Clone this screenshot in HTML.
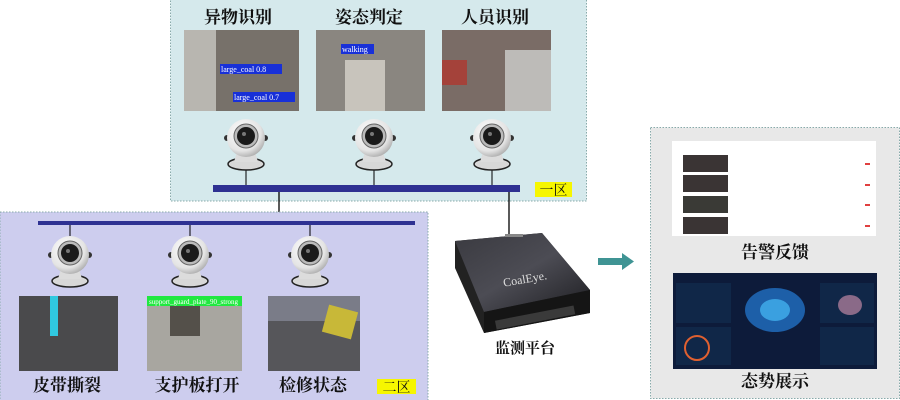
<!DOCTYPE html>
<html><head><meta charset="utf-8"><style>
html,body{margin:0;padding:0;background:#fff;}
svg{display:block;}
text{font-family:"Liberation Serif","Noto Serif CJK SC","Noto Sans CJK SC",serif;}
</style></head><body>
<svg width="900" height="400" viewBox="0 0 900 400" xmlns="http://www.w3.org/2000/svg">
<defs>
<radialGradient id="sph" cx="0.4" cy="0.35" r="0.7">
<stop offset="0" stop-color="#ffffff"/><stop offset="0.7" stop-color="#e4e4e4"/><stop offset="1" stop-color="#a8a8a8"/>
</radialGradient>
<linearGradient id="top" x1="0" y1="0" x2="1" y2="1">
<stop offset="0" stop-color="#3a3a40"/><stop offset="0.5" stop-color="#4c4c54"/><stop offset="1" stop-color="#1e1e22"/>
</linearGradient>
<g id="cam">
<ellipse cx="0" cy="24" rx="18" ry="6" fill="#d8d8d8" stroke="#222" stroke-width="1.5"/>
<path d="M-9 12 L9 12 L12 22 L-12 22 Z" fill="#dcdcdc"/>
<circle cx="-19" cy="-2" r="3" fill="#333"/><circle cx="19" cy="-2" r="3" fill="#333"/>
<circle cx="0" cy="-2" r="19" fill="url(#sph)"/>
<circle cx="0" cy="-4" r="12" fill="#bbb" stroke="#666" stroke-width="1"/>
<circle cx="0" cy="-4" r="9" fill="#1a1a1a"/>
<circle cx="-2" cy="-6" r="2" fill="#777"/>
</g>
</defs>

<!-- Zone 1 -->
<rect x="170.5" y="-1" width="416" height="202" fill="#d5e9ec" stroke="#8aa" stroke-width="1" stroke-dasharray="1.5,1.5"/>
<g font-size="17" text-anchor="middle" fill="#111" font-weight="bold">
<text x="238" y="23">异物识别</text>
<text x="369" y="23">姿态判定</text>
<text x="495" y="23">人员识别</text>
</g>
<rect x="184" y="30" width="115" height="81" fill="#77716a"/>
<rect x="184" y="30" width="32" height="81" fill="#b8b6b0"/>
<rect x="220" y="64" width="62" height="10" fill="#1830d8"/><text x="221" y="72" font-size="8" fill="#fff" font-family="Liberation Sans">large_coal 0.8</text>
<rect x="233" y="92" width="62" height="10" fill="#1830d8"/><text x="234" y="100" font-size="8" fill="#fff" font-family="Liberation Sans">large_coal 0.7</text>
<rect x="316" y="30" width="109" height="81" fill="#8a8680"/>
<rect x="345" y="60" width="40" height="51" fill="#c8c4bc"/>
<rect x="341" y="44" width="33" height="10" fill="#1830d8"/><text x="342" y="52" font-size="8" fill="#fff" font-family="Liberation Sans">walking</text>
<rect x="442" y="30" width="109" height="81" fill="#7a6c66"/>
<rect x="442" y="60" width="25" height="25" fill="#a4423a"/>
<rect x="505" y="50" width="46" height="61" fill="#bdbbb8"/>
<line x1="246" y1="168" x2="246" y2="186" stroke="#000"/>
<line x1="374" y1="168" x2="374" y2="186" stroke="#000"/>
<line x1="492" y1="168" x2="492" y2="186" stroke="#000"/>
<use href="#cam" x="246" y="140"/><use href="#cam" x="374" y="140"/><use href="#cam" x="492" y="140"/>
<rect x="213" y="185" width="307" height="7" fill="#2e3192"/>
<rect x="535" y="182" width="37" height="15" fill="#f6f600"/>
<text x="553.5" y="195" font-size="14" text-anchor="middle" fill="#111">一区</text>

<!-- connectors -->
<line x1="279" y1="192" x2="279" y2="222" stroke="#000" stroke-width="1.3"/>
<line x1="509" y1="192" x2="509" y2="236" stroke="#000" stroke-width="1.3"/>

<!-- Zone 2 -->
<rect x="0" y="212" width="428" height="189" fill="#cdcdee" stroke="#8aa" stroke-width="1" stroke-dasharray="1.5,1.5"/>
<rect x="38" y="221" width="377" height="4" fill="#2e3192"/>
<line x1="70" y1="225" x2="70" y2="240" stroke="#000"/>
<line x1="190" y1="225" x2="190" y2="240" stroke="#000"/>
<line x1="310" y1="225" x2="310" y2="240" stroke="#000"/>
<use href="#cam" x="70" y="257"/><use href="#cam" x="190" y="257"/><use href="#cam" x="310" y="257"/>
<rect x="19" y="296" width="99" height="75" fill="#4a4a4c"/>
<rect x="50" y="296" width="8" height="40" fill="#30c8e0"/>
<rect x="147" y="296" width="95" height="75" fill="#a8a6a0"/>
<rect x="147" y="296" width="95" height="10" fill="#20e840"/>
<text x="149" y="304" font-size="7" fill="#fff" font-family="Liberation Mono">support_guard_plate_90_strong</text>
<rect x="170" y="306" width="30" height="30" fill="#54504a"/>
<rect x="268" y="296" width="92" height="75" fill="#56565a"/>
<rect x="268" y="296" width="92" height="25" fill="#7a7c88"/>
<rect x="325" y="308" width="30" height="28" fill="#c8b838" transform="rotate(15 340 322)"/>
<g font-size="17" text-anchor="middle" fill="#111" font-weight="bold">
<text x="67" y="391">皮带撕裂</text>
<text x="197" y="391">支护板打开</text>
<text x="313" y="391">检修状态</text>
</g>
<rect x="377" y="379" width="39" height="15" fill="#f6f600"/>
<text x="396.5" y="392" font-size="14" text-anchor="middle" fill="#111">二区</text>

<!-- Device -->
<polygon points="455,241 542,233 590,290 590,313 484,333 455,268" fill="#222"/>
<polygon points="455,241 542,233 590,290 484,312" fill="url(#top)"/>
<polygon points="484,312 590,290 590,313 484,333" fill="#151515"/>
<rect x="495" y="313" width="80" height="9" fill="#3a3a3a" transform="rotate(-11 535 317)"/>
<rect x="505" y="234" width="18" height="3" fill="#888"/>
<text x="525" y="283" font-size="12" fill="#ddd" font-family="Liberation Sans" transform="rotate(-10 525 279)" text-anchor="middle">CoalEye.</text>
<text x="525" y="353" font-size="15" text-anchor="middle" fill="#111" font-weight="bold">监测平台</text>

<!-- arrow -->
<polygon points="598,258 622,258 622,253 634,261.5 622,270 622,265 598,265" fill="#3f9494"/>

<!-- right box -->
<rect x="650.5" y="127.5" width="249" height="271" fill="#e8e8e8" stroke="#8aa" stroke-width="1" stroke-dasharray="1.5,1.5"/>
<rect x="672" y="141" width="204" height="95" fill="#fff"/>
<rect x="683" y="155" width="45" height="17" fill="#3a3434"/>
<rect x="683" y="175" width="45" height="17" fill="#3a3434"/>
<rect x="683" y="196" width="45" height="17" fill="#3a3a36"/>
<rect x="683" y="217" width="45" height="17" fill="#3a3434"/>
<g fill="#e04040"><rect x="865" y="163" width="5" height="2"/><rect x="865" y="184" width="5" height="2"/><rect x="865" y="204" width="5" height="2"/><rect x="865" y="225" width="5" height="2"/></g>
<text x="775" y="258" font-size="17" text-anchor="middle" fill="#111" font-weight="bold">告警反馈</text>
<rect x="673" y="273" width="204" height="96" fill="#0d1b3a"/>
<rect x="676" y="283" width="55" height="40" fill="#102748"/>
<rect x="676" y="327" width="55" height="38" fill="#102748"/>
<rect x="820" y="283" width="54" height="40" fill="#102748"/>
<rect x="820" y="327" width="54" height="38" fill="#102748"/>
<ellipse cx="775" cy="310" rx="30" ry="22" fill="#1d5fa8"/>
<ellipse cx="775" cy="310" rx="15" ry="11" fill="#3aa0e0"/>
<ellipse cx="850" cy="305" rx="12" ry="10" fill="#8a6a88"/>
<circle cx="697" cy="348" r="12" fill="none" stroke="#e06030" stroke-width="2"/>
<text x="775" y="387" font-size="17" text-anchor="middle" fill="#111" font-weight="bold">态势展示</text>
</svg>
</body></html>
